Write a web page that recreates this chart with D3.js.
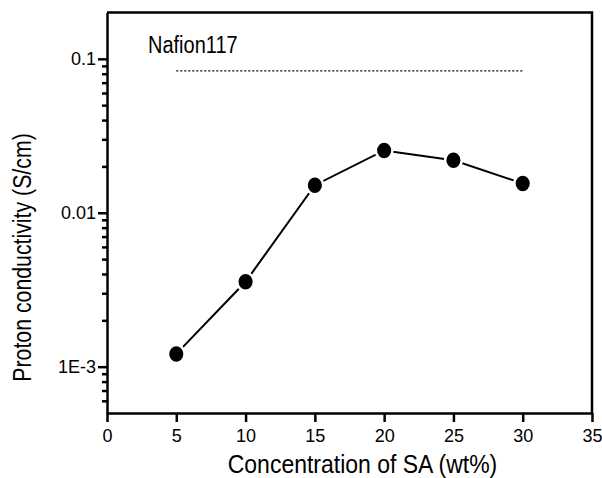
<!DOCTYPE html>
<html>
<head>
<meta charset="utf-8">
<script src="https://cdn.jsdelivr.net/npm/d3@7"></script>
<style>
  html, body { margin: 0; padding: 0; background: #fff; }
  svg { display: block; }
  text { font-family: Arial, "Liberation Sans", sans-serif; fill: #000; }
</style>
</head>
<body>
<svg id="chart" width="602" height="478"></svg>
<script>
// ---- data ----
const concentrations = [5, 10, 15, 20, 25, 30];
const conductivity = [0.00121, 0.00356, 0.0151, 0.0254, 0.0219, 0.0155];
const nafionValue = 0.0836;
const nafionRange = [5, 30];
const nafionLabel = "Nafion117";
const xTicks = [0, 5, 10, 15, 20, 25, 30, 35];
const yMajorTicks = [0.1, 0.01, 0.001];
const yMajorLabels = ["0.1", "0.01", "1E-3"];
const yMinorTicks = [0.0006, 0.0007, 0.0008, 0.0009,
  0.002, 0.003, 0.004, 0.005, 0.006, 0.007, 0.008, 0.009,
  0.02, 0.03, 0.04, 0.05, 0.06, 0.07, 0.08, 0.09];
const xTitle = "Concentration of SA (wt%)";
const yTitle = "Proton conductivity (S/cm)";

// ---- layout ----
const mLeft = 107, mRight = 592, mTop = 12.5, mBottom = 413;
const svg = d3.select("#chart");
const FONT = "Arial, 'Liberation Sans', sans-serif";

const x = d3.scaleLinear().domain([0, 35]).range([mLeft, mRight]);
const y = d3.scaleLog().domain([0.0005, 0.2]).range([mBottom, mTop]);

// frame (top and right)
svg.append("path")
  .attr("d", `M${mLeft},${mTop}H${mRight}V${mBottom}`)
  .attr("fill", "none").attr("stroke", "#000").attr("stroke-width", 2.5);

// x axis
const xAxis = svg.append("g").attr("transform", `translate(0,${mBottom})`)
  .call(d3.axisBottom(x).tickValues(xTicks).tickFormat(d3.format("d")).tickSize(9).tickPadding(7).tickSizeOuter(0));
xAxis.select(".domain").attr("stroke-width", 2.5);
xAxis.selectAll(".tick line").attr("stroke-width", 2.5);
xAxis.selectAll(".tick text").attr("font-size", 18).attr("font-family", FONT).attr("fill", "#000");

// y axis major
const yAxis = svg.append("g").attr("transform", `translate(${mLeft},0)`)
  .call(d3.axisLeft(y).tickValues(yMajorTicks)
    .tickFormat((d, i) => yMajorLabels[i]).tickSize(9).tickPadding(2).tickSizeOuter(0));
yAxis.select(".domain").attr("stroke-width", 2.5);
yAxis.selectAll(".tick line").attr("stroke-width", 2.5);
yAxis.selectAll(".tick text").attr("font-size", 18).attr("font-family", FONT).attr("fill", "#000");

// y axis minor
const yMinor = svg.append("g").attr("transform", `translate(${mLeft},0)`)
  .call(d3.axisLeft(y).tickValues(yMinorTicks).tickFormat("").tickSize(5).tickSizeOuter(0));
yMinor.select(".domain").remove();
yMinor.selectAll(".tick line").attr("stroke-width", 2.5);

// Nafion reference line
svg.append("line")
  .attr("x1", x(nafionRange[0])).attr("x2", x(nafionRange[1]))
  .attr("y1", y(nafionValue)).attr("y2", y(nafionValue))
  .attr("stroke", "#000").attr("stroke-width", 1.2).attr("stroke-dasharray", "2,2");
svg.append("text")
  .attr("transform", "translate(148,53.3) scale(1,1.15)")
  .attr("font-size", 20).text(nafionLabel);

// data line
const pts = concentrations.map((c, i) => [c, conductivity[i]]);
svg.append("path")
  .datum(pts)
  .attr("d", d3.line().x(d => x(d[0])).y(d => y(d[1])))
  .attr("fill", "none").attr("stroke", "#000").attr("stroke-width", 2);

svg.selectAll("ellipse.pt").data(pts).enter().append("ellipse")
  .attr("class", "pt")
  .attr("cx", d => x(d[0])).attr("cy", d => y(d[1]))
  .attr("rx", 8.3).attr("ry", 9)
  .attr("fill", "#000").attr("stroke", "#fff").attr("stroke-width", 2.5);

// axis titles
svg.append("text")
  .attr("transform", "translate(362.5,472.5) scale(1,1.15)")
  .attr("text-anchor", "middle").attr("font-size", 23).text(xTitle);
svg.append("text")
  .attr("transform", "translate(31,257.5) rotate(-90) scale(1,1.2)")
  .attr("text-anchor", "middle").attr("font-size", 21.3).text(yTitle);
</script>
</body>
</html>
